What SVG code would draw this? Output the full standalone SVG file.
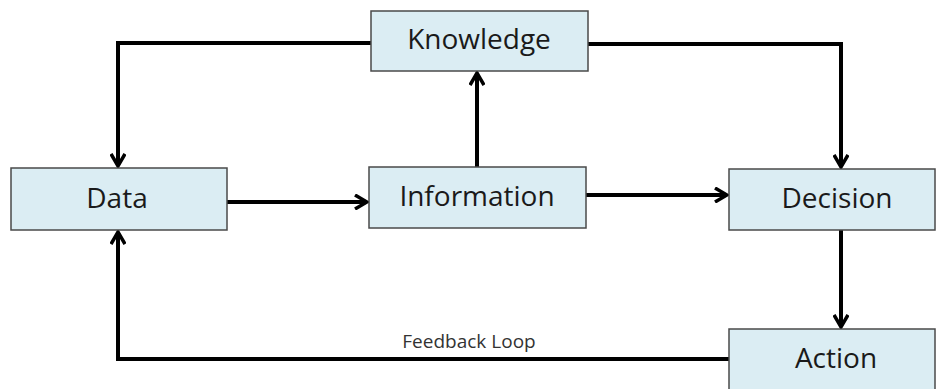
<svg xmlns="http://www.w3.org/2000/svg" width="936" height="389" viewBox="0 0 936 389">
  <style>
    .box { fill: #dbedf3; stroke: #4a4a4a; stroke-width: 1.5; }
    .label { font-family: "Open Sans", "Liberation Sans", sans-serif; font-size: 28px; fill: #1a1a1a; text-anchor: middle; }
    .small { font-family: "Open Sans", "Liberation Sans", sans-serif; font-size: 19px; fill: #333333; text-anchor: middle; }
    .link { fill: none; stroke: #000000; stroke-width: 4; stroke-linejoin: miter; }
  </style>
  <defs>
    <marker id="arrow" viewBox="0 0 16 16" markerWidth="16" markerHeight="16" refX="14" refY="8" orient="auto" markerUnits="userSpaceOnUse">
      <path d="M2,1 L14,8 L2,15" fill="none" stroke="#000000" stroke-width="3.5"/>
    </marker>
  </defs>

  <g id="connectors">
    <!-- Knowledge -> Data -->
    <polyline class="link" points="371,43 118,43 118,166" marker-end="url(#arrow)"/>
    <!-- Knowledge -> Decision -->
    <polyline class="link" points="588,44 841,44 841,167" marker-end="url(#arrow)"/>
    <!-- Data -> Information -->
    <line class="link" x1="227" y1="202" x2="367" y2="202" marker-end="url(#arrow)"/>
    <!-- Information -> Knowledge -->
    <line class="link" x1="477" y1="167" x2="477" y2="73" marker-end="url(#arrow)"/>
    <!-- Information -> Decision -->
    <line class="link" x1="586" y1="195" x2="727" y2="195" marker-end="url(#arrow)"/>
    <!-- Decision -> Action -->
    <line class="link" x1="841" y1="230" x2="841" y2="327" marker-end="url(#arrow)"/>
    <!-- Action -> Data (feedback) -->
    <polyline class="link" points="729,359 118,359 118,232" marker-end="url(#arrow)"/>
    <text class="small" x="469" y="348">Feedback Loop</text>
  </g>

  <g id="knowledge">
    <rect class="box" x="371" y="11" width="217" height="60"/>
    <text class="label" x="479" y="49">Knowledge</text>
  </g>
  <g id="data">
    <rect class="box" x="11" y="168" width="216" height="62"/>
    <text class="label" x="117" y="208">Data</text>
  </g>
  <g id="information">
    <rect class="box" x="369" y="167" width="217" height="61"/>
    <text class="label" x="477" y="206">Information</text>
  </g>
  <g id="decision">
    <rect class="box" x="729" y="169" width="206" height="61"/>
    <text class="label" x="837" y="208">Decision</text>
  </g>
  <g id="action">
    <rect class="box" x="729" y="329" width="206" height="64"/>
    <text class="label" x="836" y="368">Action</text>
  </g>
</svg>
